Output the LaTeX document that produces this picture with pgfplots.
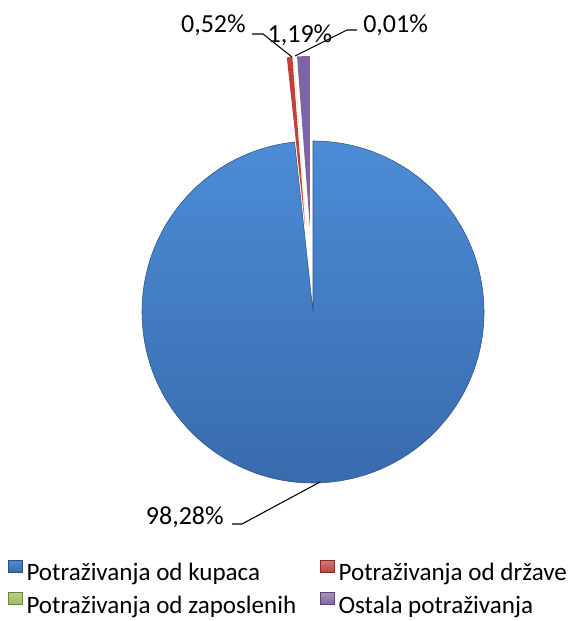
\documentclass[border=0pt]{standalone}
\usepackage{pgfplots}
\pgfplotsset{compat=1.18}
\usepackage{pgfplotstable}
\usepackage{fontspec}
\setmainfont{Carlito}

\definecolor{cBlueT}{RGB}{76,140,214}
\definecolor{cBlueB}{RGB}{56,106,172}
\definecolor{cBlueE}{RGB}{45,80,130}
\definecolor{cRed}{RGB}{192,64,60}
\definecolor{cGreen}{RGB}{155,187,89}
\definecolor{cPurple}{RGB}{128,100,162}

\pgfplotstableread{
name value
kupci 98.28
drzava 0.52
zaposleni 0.01
ostala 1.19
}\piedata

\pgfplotstablegetelem{0}{value}\of\piedata \let\vA\pgfplotsretval
\pgfplotstablegetelem{1}{value}\of\piedata \let\vB\pgfplotsretval
\pgfplotstablegetelem{2}{value}\of\piedata \let\vC\pgfplotsretval
\pgfplotstablegetelem{3}{value}\of\piedata \let\vD\pgfplotsretval

% angles (clockwise from 12 o'clock)
\pgfmathsetmacro{\aA}{90-3.6*\vA}
\pgfmathsetmacro{\aB}{90-3.6*(\vA+\vB)}
\pgfmathsetmacro{\aC}{90-3.6*(\vA+\vB+\vC)}
\pgfmathsetmacro{\aD}{90-3.6*(\vA+\vB+\vC+\vD)}
\pgfmathsetmacro{\mB}{(\aA+\aB)/2}
\pgfmathsetmacro{\mC}{(\aB+\aC)/2}
\pgfmathsetmacro{\mD}{(\aC+\aD)/2}
\def\R{128.25pt}
\def\ex{85}

\begin{document}
\begin{tikzpicture}
\begin{axis}[
  x=0.75pt, y=0.75pt,
  xmin=0, xmax=570, ymin=0, ymax=621,
  scale only axis, hide axis, clip=false,
  legend columns=2,
  legend style={at={(axis cs:8,33.5)}, anchor=west, draw=none, fill=none, inner sep=0pt,
    font=\fontsize{18.8}{20}\selectfont,
    row sep=7.3pt,
    /tikz/every odd column/.append style={column sep=3.3pt},
    /tikz/every even column/.append style={column sep=18pt},
    nodes={inner sep=0pt}},
  legend cell align=left,
]
\coordinate (LL) at (axis cs:0,0);
\coordinate (UR) at (axis cs:570,621);

% exploded small slices
\fill[cRed] (axis cs:{313+\ex*cos(\mB)},{309+\ex*sin(\mB)}) -- ++(\aB:\R) arc[start angle=\aB, end angle=\aA, radius=\R] -- cycle;
\fill[cGreen] (axis cs:{313+\ex*cos(\mC)},{309+\ex*sin(\mC)}) -- ++(\aC:\R) arc[start angle=\aC, end angle=\aB, radius=\R] -- cycle;
\fill[cPurple] (axis cs:{313+\ex*cos(\mD)},{309+\ex*sin(\mD)}) -- ++(\aD:\R) arc[start angle=\aD, end angle=\aC, radius=\R] -- cycle;

% main slice
\shade[top color=cBlueT, bottom color=cBlueB, draw=cBlueE, line width=0.4pt]
  (axis cs:313,309) -- ++(\aA:\R) arc[start angle=\aA, end angle=90, radius=\R] -- cycle;

% leader lines
\draw[black, line width=0.8pt] (axis cs:252,587) -- (axis cs:263,587) -- (axis cs:292,564);
\draw[black, line width=0.8pt] (axis cs:357,591) -- (axis cs:347,591) -- (axis cs:295,565);
\draw[black, line width=0.8pt] (axis cs:232,97) -- (axis cs:242,97) -- (axis cs:320,139);

% labels
\node[anchor=east, font=\fontsize{19.5}{22}\selectfont, inner sep=0pt] at (axis cs:246,596) {0,52\%};
\node[font=\fontsize{19.5}{22}\selectfont, inner sep=0pt] at (axis cs:300,586) {1,19\%};
\node[anchor=west, font=\fontsize{19.5}{22}\selectfont, inner sep=0pt] at (axis cs:363,596) {0,01\%};
\node[anchor=east, font=\fontsize{19.5}{22}\selectfont, inner sep=0pt] at (axis cs:224,104) {98,28\%};

% legend
\addlegendimage{area legend, legend image code/.code={\shade[top color=cBlueT, bottom color=cBlueB, draw=cBlueE] (0pt,0.5pt) rectangle (10pt,9.5pt);}}
\addlegendentry{Potraživanja od kupaca}
\addlegendimage{area legend, legend image code/.code={\shade[top color=cRed!70!white, bottom color=cRed, draw=cRed!70!black] (0pt,0.5pt) rectangle (10pt,9.5pt);}}
\addlegendentry{Potraživanja od države}
\addlegendimage{area legend, legend image code/.code={\shade[top color=cGreen!70!white, bottom color=cGreen, draw=cGreen!70!black] (0pt,0.5pt) rectangle (10pt,9.5pt);}}
\addlegendentry{Potraživanja od zaposlenih}
\addlegendimage{area legend, legend image code/.code={\shade[top color=cPurple!70!white, bottom color=cPurple, draw=cPurple!70!black] (0pt,0.5pt) rectangle (10pt,9.5pt);}}
\addlegendentry{Ostala potraživanja}
\end{axis}
\pgfresetboundingbox
\useasboundingbox (LL) rectangle (UR);
\end{tikzpicture}
\end{document}
